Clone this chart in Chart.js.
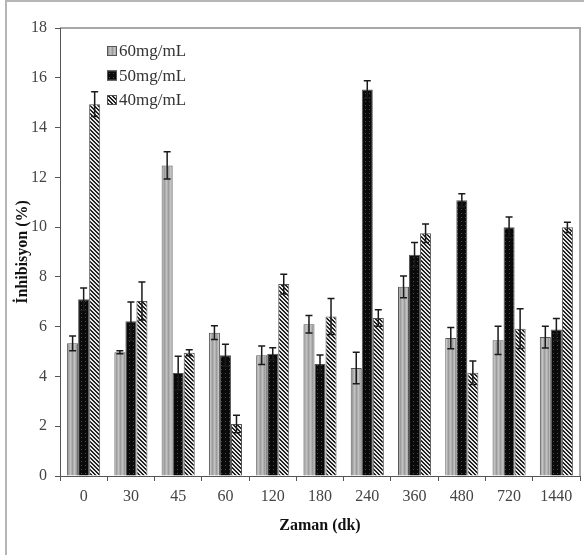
<!DOCTYPE html>
<html>
<head>
<meta charset="utf-8">
<script src="https://cdn.jsdelivr.net/npm/chart.js@4"></script>
<style>
  html, body { margin: 0; padding: 0; background: #fff; }
  canvas { display: block; }
</style>
</head>
<body>
<canvas id="myChart" width="584" height="555"></canvas>
<script>
// time points (dk)
var categories = ['0', '30', '45', '60', '120', '180', '240', '360', '480', '720', '1440'];
var yTicks = [0, 2, 4, 6, 8, 10, 12, 14, 16, 18];

var mg60 = [5.33, 4.97, 12.48, 5.76, 4.85, 6.10, 4.34, 7.60, 5.54, 5.45, 5.58];
var mg60Err = [0.30, 0.06, 0.55, 0.28, 0.37, 0.35, 0.63, 0.44, 0.43, 0.57, 0.44];
var mg50 = [7.10, 6.22, 4.14, 4.85, 4.91, 4.50, 15.53, 8.89, 11.08, 9.99, 5.89];
var mg50Err = [0.45, 0.77, 0.67, 0.44, 0.24, 0.36, 0.35, 0.49, 0.26, 0.42, 0.44];
var mg40 = [14.94, 7.03, 4.95, 2.09, 7.71, 6.41, 6.35, 9.75, 4.15, 5.92, 9.99];
var mg40Err = [0.50, 0.76, 0.12, 0.35, 0.40, 0.72, 0.33, 0.37, 0.47, 0.80, 0.21];

var serif = "'Liberation Serif', 'DejaVu Serif', serif";

// fill patterns, like the old excel ones
function makePattern(size, paint) {
  var c = document.createElement('canvas');
  c.width = size; c.height = size;
  var g = c.getContext('2d');
  paint(g);
  return c.getContext('2d').createPattern(c, 'repeat');
}
var greyFill = makePattern(4, function (g) {
  g.fillStyle = '#b0b0b0'; g.fillRect(0, 0, 4, 4);
  g.fillStyle = '#9c9c9c'; g.fillRect(0, 0, 1, 4);
  g.fillStyle = '#c2c2c2'; g.fillRect(2, 0, 1, 4);
});
var blackFill = makePattern(4, function (g) {
  g.fillStyle = '#0a0a0a'; g.fillRect(0, 0, 4, 4);
  g.fillStyle = '#4a4a4a'; g.fillRect(1, 1, 1, 1);
});
var stripeFill = makePattern(4, function (g) {
  g.fillStyle = '#e8e8e8'; g.fillRect(0, 0, 4, 4);
  g.fillStyle = '#222';
  for (var y = 0; y < 4; y++) {
    for (var x = 0; x < 4; x++) {
      if (((x - y) % 4 + 4) % 4 < 2) g.fillRect(x, y, 1, 1);
    }
  }
});

var errors = [mg60Err, mg50Err, mg40Err];

var framePlugin = {
  id: 'frame',
  beforeDraw: function (chart) {
    var ctx = chart.ctx;
    ctx.save();
    ctx.fillStyle = '#fff';
    ctx.fillRect(0, 0, chart.width, chart.height);
    ctx.strokeStyle = '#b5b5b5';
    ctx.lineWidth = 2;
    ctx.beginPath();
    ctx.moveTo(6, chart.height);
    ctx.lineTo(6, 1);
    ctx.lineTo(chart.width, 1);
    ctx.stroke();
    // top and right edge of plot area
    var a = chart.chartArea;
    ctx.strokeStyle = '#a8a8a8';
    ctx.beginPath();
    ctx.moveTo(a.left, a.top);
    ctx.lineTo(a.right, a.top);
    ctx.lineTo(a.right, a.bottom);
    ctx.stroke();
    ctx.restore();
  }
};

var errorBarPlugin = {
  id: 'errorBars',
  afterDatasetsDraw: function (chart) {
    var ctx = chart.ctx;
    var yScale = chart.scales.y;
    ctx.save();
    ctx.strokeStyle = '#1a1a1a';
    ctx.lineWidth = 1.5;
    chart.data.datasets.forEach(function (ds, i) {
      var meta = chart.getDatasetMeta(i);
      meta.data.forEach(function (bar, j) {
        var v = ds.data[j];
        var e = errors[i][j];
        var yTop = yScale.getPixelForValue(v + e);
        var yBot = yScale.getPixelForValue(v - e);
        ctx.beginPath();
        ctx.moveTo(bar.x, yTop); ctx.lineTo(bar.x, yBot);
        ctx.moveTo(bar.x - 3.5, yTop); ctx.lineTo(bar.x + 3.5, yTop);
        ctx.moveTo(bar.x - 3.5, yBot); ctx.lineTo(bar.x + 3.5, yBot);
        ctx.stroke();
      });
    });
    ctx.restore();
  }
};

// legend sits inside the plot, top left
var insideLegend = {
  id: 'insideLegend',
  afterDraw: function (chart) {
    var ctx = chart.ctx;
    ctx.save();
    ctx.font = '17px ' + serif;
    ctx.textBaseline = 'middle';
    chart.data.datasets.forEach(function (ds, i) {
      var y = 51 + i * 24.5;
      ctx.fillStyle = ds.backgroundColor;
      ctx.fillRect(107, y - 5, 10, 10);
      ctx.strokeStyle = '#555';
      ctx.lineWidth = 1;
      ctx.strokeRect(107.5, y - 4.5, 9, 9);
      ctx.fillStyle = '#333';
      ctx.fillText(ds.label, 119, y + 1);
    });
    ctx.restore();
  }
};

var ctx = document.getElementById('myChart').getContext('2d');
var myChart = new Chart(ctx, {
  type: 'bar',
  data: {
    labels: categories,
    datasets: [{
      label: '60mg/mL',
      data: mg60,
      backgroundColor: greyFill,
      borderColor: '#555',
      borderWidth: 1
    }, {
      label: '50mg/mL',
      data: mg50,
      backgroundColor: blackFill,
      borderColor: '#555',
      borderWidth: 1
    }, {
      label: '40mg/mL',
      data: mg40,
      backgroundColor: stripeFill,
      borderColor: '#555',
      borderWidth: 1
    }]
  },
  options: {
    responsive: false,
    animation: false,
    devicePixelRatio: 1,
    layout: { padding: { left: 0, top: 28, right: 4, bottom: 0 } },
    datasets: { bar: { categoryPercentage: 0.7, barPercentage: 1.0 } },
    plugins: {
      legend: { display: false },
      tooltip: { enabled: false }
    },
    scales: {
      x: {
        grid: { drawOnChartArea: false, tickLength: 5, color: '#555', offset: true },
        border: { color: '#555', width: 1 },
        ticks: { color: '#444', padding: 6, font: { family: serif, size: 16 } },
        title: {
          display: true,
          text: 'Zaman (dk)',
          color: '#111',
          font: { family: serif, size: 16, weight: 'bold' },
          padding: { top: 0, bottom: 20 }
        },
        afterFit: function (scale) { scale.height = 79; }
      },
      y: {
        min: 0,
        max: 18,
        afterBuildTicks: function (scale) {
          scale.ticks = yTicks.map(function (v) { return { value: v }; });
        },
        grid: { drawOnChartArea: false, tickLength: 5, color: '#555' },
        border: { color: '#555', width: 1 },
        ticks: { color: '#444', padding: 8, font: { family: serif, size: 16 } },
        title: {
          display: true,
          text: 'İnhibisyon (%)',
          color: '#111',
          font: { family: serif, size: 16, weight: 'bold' },
          padding: { top: 13, bottom: 0 }
        },
        afterFit: function (scale) { scale.width = 60; }
      }
    }
  },
  plugins: [framePlugin, errorBarPlugin, insideLegend]
});
</script>
</body>
</html>
